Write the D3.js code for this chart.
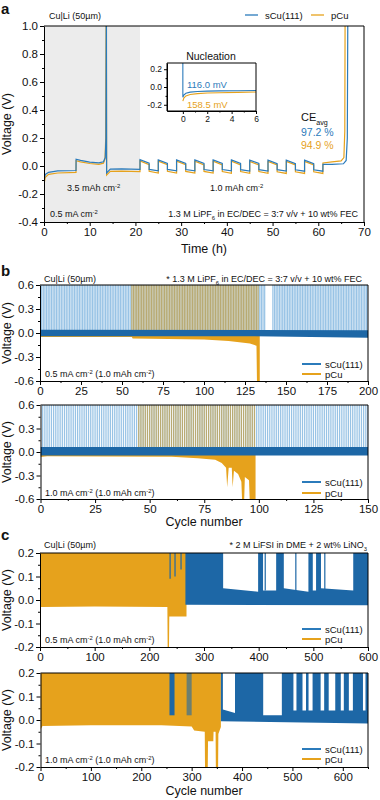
<!doctype html>
<html>
<head>
<meta charset="utf-8">
<script src="https://d3js.org/d3.v7.min.js"></script>
<style>
  body { margin: 0; background: #fff; }
  svg text { font-family: "Liberation Sans", Arial, sans-serif; }
</style>
</head>
<body>
<svg width="380" height="800"></svg>
<script>
var svg = d3.select("svg");
var sColor = "#2b7bbb", pColor = "#e6a21c";
var sBandColor = "#1d67a6", sSpikeColor = "#86b8e0", pSpikeColor = "#cf9a24";

// ---------------- panel a : voltage profile ----------------
var aXTicks = [0, 10, 20, 30, 40, 50, 60, 70];
var aXMinor = [5, 15, 25, 35, 45, 55, 65];
var aYTicks = [-0.4, -0.2, 0, 0.2, 0.4, 0.6, 0.8, 1.0];
var aYMinor = [-0.3, -0.1, 0.1, 0.3, 0.5, 0.7, 0.9];
var aShade = [0, 21];

// first 21 h: 3.5 mAh plating, stripping, plating
var aHeadTS = [0, 0.3, 1, 3, 7, 7.02, 8, 10, 12, 13, 13.4, 13.55, 13.62, 13.66, 13.7, 14.5, 17, 21];
var aHeadS  = [-0.1, -0.06, -0.045, -0.035, -0.032, 0.048, 0.04, 0.028, 0.022, 0.03, 0.06, 0.2, 1.0, 1.0, -0.05, -0.022, -0.02, -0.024];
var aHeadTP = [0, 0.3, 1, 3, 7, 7.02, 8, 10, 12, 13, 13.35, 13.5, 13.58, 13.64, 13.7, 14.5, 17, 21];
var aHeadP  = [-0.13, -0.08, -0.06, -0.05, -0.046, 0.038, 0.03, 0.018, 0.012, 0.02, 0.05, 0.2, 1.0, 1.0, -0.065, -0.038, -0.036, -0.04];

// 1.0 mAh cycles (start time of each cycle)
var aCycleT = [21, 25, 29, 33, 37, 41, 45, 49, 53, 57];
var aSStripOn  = [0.045, 0.044, 0.044, 0.043, 0.043, 0.043, 0.042, 0.042, 0.042, 0.042];
var aSStripOff = [0.02, 0.019, 0.019, 0.018, 0.018, 0.018, 0.018, 0.017, 0.017, 0.017];
var aSPlateOn  = [-0.024, -0.024, -0.025, -0.025, -0.025, -0.026, -0.026, -0.026, -0.027, -0.027];
var aSPlateOff = [-0.034, -0.034, -0.035, -0.035, -0.035, -0.036, -0.036, -0.036, -0.037, -0.037];
var aPStripOn  = [0.036, 0.035, 0.035, 0.034, 0.034, 0.034, 0.033, 0.033, 0.033, 0.033];
var aPStripOff = [0.01, 0.009, 0.009, 0.008, 0.008, 0.008, 0.008, 0.007, 0.007, 0.007];
var aPPlateOn  = [-0.038, -0.038, -0.039, -0.039, -0.04, -0.04, -0.04, -0.041, -0.041, -0.041];
var aPPlateOff = [-0.05, -0.05, -0.051, -0.051, -0.052, -0.052, -0.052, -0.053, -0.053, -0.053];

// final stripping
var aTailTS = [61, 61.02, 63, 65.5, 66.1, 66.35, 66.45, 66.5];
var aTailS  = [-0.037, 0.012, 0.012, 0.016, 0.04, 0.2, 1.0, 1.3];
var aTailTP = [61, 61.02, 63, 65, 65.6, 65.8, 65.86, 65.9];
var aTailP  = [-0.053, 0.022, 0.03, 0.036, 0.06, 0.25, 1.0, 1.3];

// inset: nucleation
var inXTicks = [0, 2, 4, 6];
var inXMinor = [1, 3, 5];
var inYTicks = [-0.2, 0, 0.2];
var inYMinor = [-0.1, 0.1];
var inTS = [0, 0, 0.08, 0.25, 0.6, 1.2, 2, 3, 4.5, 6];
var inS  = [0.3, -0.116, -0.09, -0.07, -0.058, -0.05, -0.046, -0.044, -0.042, -0.04];
var inTP = [0, 0.08, 0.25, 0.6, 1.2, 2, 3, 4.5, 6];
var inP  = [-0.1585, -0.125, -0.1, -0.085, -0.075, -0.068, -0.064, -0.06, -0.057];

// ---------------- panel b : cycling in carbonate electrolyte ----------------
var b1XTicks = [0, 25, 50, 75, 100, 125, 150, 175, 200];
var b1XMinor = [12.5, 37.5, 62.5, 87.5, 112.5, 137.5, 162.5, 187.5];
var b2XTicks = [0, 25, 50, 75, 100, 125, 150];
var b2XMinor = [12.5, 37.5, 62.5, 87.5, 112.5, 137.5];
var bYTicks = [-0.6, -0.3, 0, 0.3, 0.6];
var bYMinor = [-0.45, -0.15, 0.15, 0.45];

// 0.5 mA cm-2
var b1sTop = [[0, 0.042], [200, 0.035]];
var b1sBot = [[0, -0.04], [130, -0.04], [200, -0.06]];
var b1sSpikes = [[1, 137], [142, 200]];
var b1pTop = [[0, 0.0], [134, 0.0]];
var b1pBot = [[0, -0.05], [56, -0.05], [56.5, -0.07], [100, -0.08], [115, -0.1], [128, -0.13], [132, -0.16], [132.3, -0.6], [134, -0.6]];
var b1pSpikes = [[56, 133]];

// 1.0 mA cm-2
var b2sTop = [[0, 0.065], [150, 0.065]];
var b2sBot = [[0, -0.045], [150, -0.045]];
var b2sSpikes = [[1, 150]];
var b2pTop = [[0, 0.0], [98.5, 0.0]];
var b2pBot = [[0, -0.065], [3, -0.055], [60, -0.06], [72, -0.08], [80, -0.1], [83, -0.14], [85, -0.2], [85.5, -0.45], [86.2, -0.2], [87.6, -0.2],
              [88, -0.45], [88.6, -0.24], [90.5, -0.28], [92, -0.38], [92.3, -0.6], [93.3, -0.6], [93.6, -0.32], [95.5, -0.36], [95.8, -0.6], [98.5, -0.6]];
var b2pSpikes = [[45, 98]];

// ---------------- panel c : cycling in ether electrolyte ----------------
var c1XTicks = [0, 100, 200, 300, 400, 500, 600];
var c1XMinor = [50, 150, 250, 350, 450, 550];
var c2XTicks = [0, 100, 200, 300, 400, 500, 600];
var c2XMinor = [50, 150, 250, 350, 450, 550, 650];
var cYTicks = [-0.2, -0.1, 0, 0.1, 0.2];
var cYMinor = [-0.15, -0.05, 0.05, 0.15];

// 0.5 mA cm-2
var c1pTop = [[0, 0.2], [268, 0.2]];
var c1pBot = [[0, -0.085], [1.5, -0.03], [100, -0.028], [233, -0.03], [233.5, -0.2], [236, -0.2], [236.5, -0.07], [268, -0.07]];
var c1sTop = [[266, 0.2], [335, 0.2], [335, 0.05], [399, 0.035], [399, 0.2], [408, 0.2], [408, 0.04], [432, 0.04], [432, 0.2], [446, 0.2],
              [446, 0.05], [491, 0.035], [491, 0.2], [499, 0.2], [499, 0.04], [505, 0.04], [505, 0.2], [514, 0.2], [514, 0.05], [573, 0.04],
              [573, 0.2], [600, 0.2]];
var c1sBot = [[266, -0.02], [600, -0.022]];
var c1sLines = [[238, 0.09, 0.2], [247, 0.1, 0.2], [258, 0.13, 0.2], [412, 0.04, 0.2], [468, 0.04, 0.2], [521, 0.04, 0.2]];

// 1.0 mA cm-2
var c2pTop = [[0, 0.2], [358, 0.2]];
var c2pBot = [[0, -0.04], [4, -0.025], [100, -0.022], [240, -0.022], [300, -0.028], [305, -0.045], [326, -0.05], [326.5, -0.2], [332, -0.2],
              [332.5, -0.09], [343, -0.09], [343.5, -0.05], [347.5, -0.05], [348, -0.2], [352.5, -0.2], [353, -0.06], [358, -0.03]];
var c2sBlocks = [[256, 266, 0.02, 0.2, 1], [290, 300, 0.02, 0.2, 0.6]];
var c2sTop = [[358, 0.2], [362, 0.2], [362, 0.045], [386, 0.03], [386, 0.2], [442, 0.2], [442, 0.02], [479, 0.02], [479, 0.2], [502, 0.2],
              [502, 0.04], [508, 0.04], [508, 0.2], [520, 0.2], [520, 0.04], [527, 0.04], [527, 0.2], [532, 0.2], [532, 0.04], [540, 0.04],
              [540, 0.2], [556, 0.2], [556, 0.04], [563, 0.04], [563, 0.2], [572, 0.2], [572, 0.04], [585, 0.04], [585, 0.2], [596, 0.2],
              [596, 0.04], [602, 0.04], [602, 0.2], [612, 0.2], [612, 0.04], [620, 0.04], [620, 0.2], [640, 0.2], [640, 0.04], [645, 0.04],
              [645, 0.2], [650, 0.2]];
var c2sBot = [[358, -0.005], [650, -0.015]];

// ---------------- helpers ----------------
function rich(x, y, str, size, color, anchor, weight) {
  var t = svg.append("text").attr("x", x).attr("y", y).attr("font-size", size)
    .attr("fill", color || "#111").attr("text-anchor", anchor || "start")
    .attr("font-weight", weight || "normal");
  str.split(/(\^\{[^}]*\}|_\{[^}]*\})/).forEach(function(p) {
    if (!p) return;
    var ts = t.append("tspan");
    if (p[0] === "^") ts.attr("baseline-shift", "super").attr("font-size", size * 0.65).text(p.slice(2, -1));
    else if (p[0] === "_") ts.attr("baseline-shift", "sub").attr("font-size", size * 0.65).text(p.slice(2, -1));
    else ts.text(p);
  });
  return t;
}

var clipN = 0;
function dataLayer(x, y) {
  var id = "clip" + (clipN++);
  svg.append("clipPath").attr("id", id).append("rect")
    .attr("x", x.range()[0]).attr("y", y.range()[1])
    .attr("width", x.range()[1] - x.range()[0]).attr("height", y.range()[0] - y.range()[1]);
  return svg.append("g").attr("clip-path", "url(#" + id + ")");
}

function frame(x, y, o) {
  var x0 = x.range()[0], x1 = x.range()[1], yb = y.range()[0], yt = y.range()[1];
  var fs = o.fs || 11.5, tk = o.tk || 4;
  function style(g) {
    g.attr("font-size", fs).attr("font-family", "Liberation Sans, Arial, sans-serif");
    g.selectAll("text").attr("fill", "#111");
  }
  svg.append("g").attr("transform", "translate(0," + yb + ")")
    .call(d3.axisBottom(x).tickValues(o.xTicks).tickSize(tk).tickSizeOuter(0).tickPadding(2)
      .tickFormat(o.xLabels === false ? "" : d3.format("d")))
    .call(style);
  svg.append("g").attr("transform", "translate(0," + yb + ")")
    .call(d3.axisBottom(x).tickValues(o.xMinor).tickSize(tk / 2).tickFormat(""))
    .call(function(g) { g.select(".domain").remove(); });
  svg.append("g").attr("transform", "translate(" + x0 + ",0)")
    .call(d3.axisLeft(y).tickValues(o.yTicks).tickSize(tk).tickSizeOuter(0).tickPadding(2)
      .tickFormat(function(d) { return d.toFixed(1); }))
    .call(style);
  svg.append("g").attr("transform", "translate(" + x0 + ",0)")
    .call(d3.axisLeft(y).tickValues(o.yMinor).tickSize(tk / 2).tickFormat(""))
    .call(function(g) { g.select(".domain").remove(); });
  svg.append("path").attr("fill", "none").attr("stroke", "#000").attr("stroke-width", 1)
    .attr("d", "M" + x0 + "," + yt + "H" + x1 + "V" + yb);
  if (o.yTitle) {
    svg.append("text").attr("transform", "translate(11," + ((yt + yb) / 2) + ") rotate(-90)")
      .attr("text-anchor", "middle").attr("font-size", 12.5).attr("fill", "#111").text("Voltage (V)");
  }
}

function band(g, x, y, top, bot, color, opacity) {
  var pts = top.concat(bot.slice().reverse());
  g.append("path").attr("fill", color).attr("fill-opacity", opacity || 1)
    .attr("d", d3.line().x(function(d) { return x(d[0]); }).y(function(d) { return y(d[1]); })(pts) + "Z");
}

function spikes(g, x, y, ranges, top, color, opacity) {
  ranges.forEach(function(r) {
    g.append("g").selectAll("line").data(d3.range(r[0], r[1] + 1)).enter().append("line")
      .attr("x1", function(d) { return x(d); }).attr("x2", function(d) { return x(d); })
      .attr("y1", y(0)).attr("y2", y(top))
      .attr("stroke", color).attr("stroke-width", 1.25).attr("stroke-opacity", opacity);
  });
}

function legendIn(xL, ys, yp) {
  [[ys, sColor, "sCu(111)"], [yp, pColor, "pCu"]].forEach(function(l) {
    svg.append("line").attr("x1", xL).attr("x2", xL + 19).attr("y1", l[0]).attr("y2", l[0])
      .attr("stroke", l[1]).attr("stroke-width", 2);
    svg.append("text").attr("x", xL + 23).attr("y", l[0] + 3.5).attr("font-size", 9.5).attr("fill", "#111").text(l[2]);
  });
}

// ---------------- draw panel a ----------------
var ax = d3.scaleLinear().domain([0, 70]).range([44, 364]);
var ay = d3.scaleLinear().domain([-0.4, 1.0]).range([222, 26]);
var ga = dataLayer(ax, ay);
ga.append("rect").attr("x", ax(aShade[0])).attr("y", ay(1.0)).attr("width", ax(aShade[1]) - ax(aShade[0]))
  .attr("height", ay(-0.4) - ay(1.0)).attr("fill", "#ececec");

function aSeries(headT, headV, on, off, pOn, pOff, tailT, tailV) {
  var pts = headT.map(function(t, i) { return [t, headV[i]]; });
  aCycleT.forEach(function(t, i) {
    pts.push([t, on[i]], [t + 2, off[i]], [t + 2, pOn[i]], [t + 4, pOff[i]]);
  });
  tailT.forEach(function(t, i) { pts.push([t, tailV[i]]); });
  return pts;
}
var aLine = d3.line().x(function(d) { return ax(d[0]); }).y(function(d) { return ay(d[1]); });
ga.append("path").attr("fill", "none").attr("stroke", pColor).attr("stroke-width", 1.2)
  .attr("d", aLine(aSeries(aHeadTP, aHeadP, aPStripOn, aPStripOff, aPPlateOn, aPPlateOff, aTailTP, aTailP)));
ga.append("path").attr("fill", "none").attr("stroke", sColor).attr("stroke-width", 1.2)
  .attr("d", aLine(aSeries(aHeadTS, aHeadS, aSStripOn, aSStripOff, aSPlateOn, aSPlateOff, aTailTS, aTailS)));

frame(ax, ay, { xTicks: aXTicks, xMinor: aXMinor, yTicks: aYTicks, yMinor: aYMinor, yTitle: true });
svg.append("text").attr("x", (44 + 364) / 2).attr("y", 253).attr("text-anchor", "middle")
  .attr("font-size", 12.5).attr("fill", "#111").text("Time (h)");

// inset
var ix = d3.scaleLinear().domain([-1.3, 6]).range([167, 256]);
var iy = d3.scaleLinear().domain([-0.27, 0.27]).range([111, 63]);
var gi = dataLayer(ix, iy);
var iLine = d3.line().x(function(d) { return ix(d[0]); }).y(function(d) { return iy(d[1]); });
gi.append("path").attr("fill", "none").attr("stroke", pColor).attr("stroke-width", 1.1)
  .attr("d", iLine(inTP.map(function(t, i) { return [t, inP[i]]; })));
gi.append("path").attr("fill", "none").attr("stroke", sColor).attr("stroke-width", 1.1)
  .attr("d", iLine(inTS.map(function(t, i) { return [t, inS[i]]; })));
frame(ix, iy, { xTicks: inXTicks, xMinor: inXMinor, yTicks: inYTicks, yMinor: inYMinor, fs: 8.5, tk: 3 });
svg.append("path").attr("fill", "none").attr("stroke", "#000")
  .attr("d", "M" + ix.range()[0] + "," + iy.range()[1] + "V" + iy.range()[0] + "H" + ix.range()[1]);
svg.append("text").attr("x", 211).attr("y", 60).attr("text-anchor", "middle").attr("font-size", 10.5).attr("fill", "#111").text("Nucleation");
svg.append("text").attr("x", 187).attr("y", 88).attr("font-size", 9.5).attr("fill", sColor).text("116.0 mV");
svg.append("text").attr("x", 187).attr("y", 108).attr("font-size", 9.5).attr("fill", pColor).text("158.5 mV");

// legend + annotations a
svg.append("text").attr("x", 1).attr("y", 14).attr("font-size", 15).attr("font-weight", "bold").attr("fill", "#111").text("a");
rich(49, 19, "Cu|Li (50µm)", 9, "#111");
svg.append("line").attr("x1", 245).attr("x2", 258).attr("y1", 15).attr("y2", 15).attr("stroke", sColor).attr("stroke-width", 1.3);
svg.append("text").attr("x", 265).attr("y", 18.5).attr("font-size", 9.5).attr("fill", "#111").text("sCu(111)");
svg.append("line").attr("x1", 311).attr("x2", 324).attr("y1", 15).attr("y2", 15).attr("stroke", pColor).attr("stroke-width", 1.3);
svg.append("text").attr("x", 331).attr("y", 18.5).attr("font-size", 9.5).attr("fill", "#111").text("pCu");
rich(301, 120.5, "CE_{avg}", 11, "#111");
svg.append("text").attr("x", 301).attr("y", 135.5).attr("font-size", 10.5).attr("fill", sColor).text("97.2 %");
svg.append("text").attr("x", 301).attr("y", 148.5).attr("font-size", 10.5).attr("fill", pColor).text("94.9 %");
rich(67, 191, "3.5 mAh cm^{-2}", 9, "#111");
rich(210, 191, "1.0 mAh cm^{-2}", 9, "#111");
rich(50, 217, "0.5 mA cm^{-2}", 9, "#111");
rich(358, 217, "1.3 M LiPF_{6} in EC/DEC = 3:7 v/v + 10 wt% FEC", 9, "#111", "end");

// ---------------- draw panel b ----------------
function cyclePlot(x, y, sTop, sBot, sSpk, pTop, pBot, pSpk, yTop) {
  var g = dataLayer(x, y);
  spikes(g, x, y, sSpk, yTop, sSpikeColor, 0.85);
  spikes(g, x, y, pSpk, yTop, pSpikeColor, 0.6);
  band(g, x, y, pTop, pBot, pColor, 1);
  band(g, x, y, sTop, sBot, sBandColor, 1);
  return g;
}
var b1x = d3.scaleLinear().domain([0, 200]).range([40, 368]);
var b1y = d3.scaleLinear().domain([-0.6, 0.6]).range([381, 285]);
cyclePlot(b1x, b1y, b1sTop, b1sBot, b1sSpikes, b1pTop, b1pBot, b1pSpikes, 0.6);
frame(b1x, b1y, { xTicks: b1XTicks, xMinor: b1XMinor, yTicks: bYTicks, yMinor: bYMinor, yTitle: true });

var b2x = d3.scaleLinear().domain([0, 150]).range([40.5, 368]);
var b2y = d3.scaleLinear().domain([-0.6, 0.6]).range([499, 405]);
cyclePlot(b2x, b2y, b2sTop, b2sBot, b2sSpikes, b2pTop, b2pBot, b2pSpikes, 0.6);
frame(b2x, b2y, { xTicks: b2XTicks, xMinor: b2XMinor, yTicks: bYTicks, yMinor: bYMinor, yTitle: true });
svg.append("text").attr("x", (40 + 368) / 2).attr("y", 526).attr("text-anchor", "middle")
  .attr("font-size", 12.5).attr("fill", "#111").text("Cycle number");

svg.append("text").attr("x", 1).attr("y", 276).attr("font-size", 15).attr("font-weight", "bold").attr("fill", "#111").text("b");
rich(44, 282, "Cu|Li (50µm)", 9, "#111");
rich(362, 282, "* 1.3 M LiPF_{6} in EC/DEC = 3:7 v/v + 10 wt% FEC", 9, "#111", "end");
rich(45, 377, "0.5 mA cm^{-2} (1.0 mAh cm^{-2})", 9, "#111");
legendIn(302, 364, 374);
rich(45, 496, "1.0 mA cm^{-2} (1.0 mAh cm^{-2})", 9, "#111");
legendIn(302, 482, 493);

// ---------------- draw panel c ----------------
var c1x = d3.scaleLinear().domain([0, 600]).range([40, 368]);
var c1y = d3.scaleLinear().domain([-0.2, 0.2]).range([647, 553]);
var gc1 = dataLayer(c1x, c1y);
band(gc1, c1x, c1y, c1pTop, c1pBot, pColor, 1);
band(gc1, c1x, c1y, c1sTop, c1sBot, sBandColor, 1);
c1sLines.forEach(function(l) {
  gc1.append("line").attr("x1", c1x(l[0])).attr("x2", c1x(l[0])).attr("y1", c1y(l[1])).attr("y2", c1y(l[2]))
    .attr("stroke", sBandColor).attr("stroke-width", 1.2);
});
frame(c1x, c1y, { xTicks: c1XTicks, xMinor: c1XMinor, yTicks: cYTicks, yMinor: cYMinor, yTitle: true });

var c2x = d3.scaleLinear().domain([0, 650]).range([40.5, 368]);
var c2y = d3.scaleLinear().domain([-0.2, 0.2]).range([767, 673]);
var gc2 = dataLayer(c2x, c2y);
band(gc2, c2x, c2y, c2pTop, c2pBot, pColor, 1);
c2sBlocks.forEach(function(b) {
  gc2.append("rect").attr("x", c2x(b[0])).attr("width", c2x(b[1]) - c2x(b[0]))
    .attr("y", c2y(b[3])).attr("height", c2y(b[2]) - c2y(b[3]))
    .attr("fill", sBandColor).attr("fill-opacity", b[4]);
});
band(gc2, c2x, c2y, c2sTop, c2sBot, sBandColor, 1);
frame(c2x, c2y, { xTicks: c2XTicks, xMinor: c2XMinor, yTicks: cYTicks, yMinor: cYMinor, yTitle: true });
svg.append("text").attr("x", (40 + 368) / 2).attr("y", 795).attr("text-anchor", "middle")
  .attr("font-size", 12.5).attr("fill", "#111").text("Cycle number");

svg.append("text").attr("x", 1).attr("y", 540).attr("font-size", 15).attr("font-weight", "bold").attr("fill", "#111").text("c");
rich(44, 548, "Cu|Li (50µm)", 9, "#111");
rich(367, 548, "* 2 M LiFSI in DME + 2 wt% LiNO_{3}", 9, "#111", "end");
rich(45, 643, "0.5 mA cm^{-2} (1.0 mAh cm^{-2})", 9, "#111");
legendIn(302, 629, 639);
rich(45, 763, "1.0 mA cm^{-2} (1.0 mAh cm^{-2})", 9, "#111");
legendIn(302, 749, 759);
</script>
</body>
</html>
